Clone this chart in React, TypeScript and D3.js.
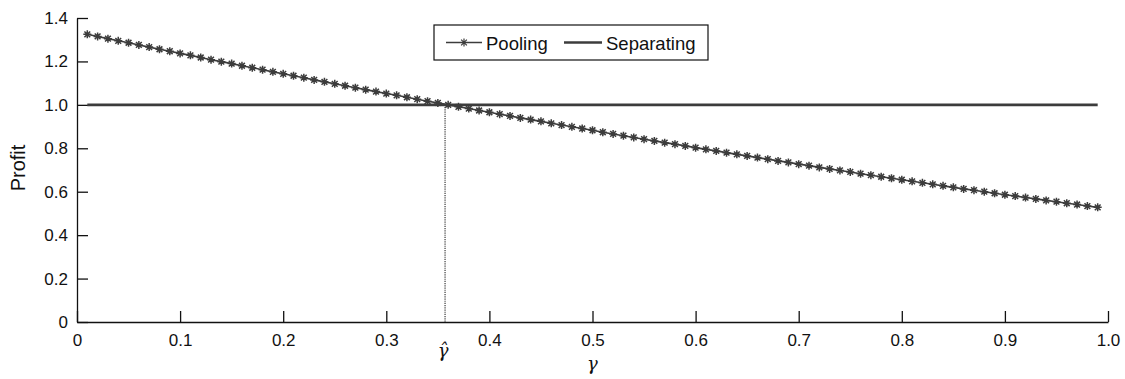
import { useEffect, useRef } from 'react';

import * as d3 from 'd3';


// ==========================================
// DATA
// ==========================================
const gamma = [
    0.01, 0.02, 0.03, 0.04, 0.05, 0.06, 0.07, 0.08, 0.09, 0.10,
    0.11, 0.12, 0.13, 0.14, 0.15, 0.16, 0.17, 0.18, 0.19, 0.20,
    0.21, 0.22, 0.23, 0.24, 0.25, 0.26, 0.27, 0.28, 0.29, 0.30,
    0.31, 0.32, 0.33, 0.34, 0.35, 0.36, 0.37, 0.38, 0.39, 0.40,
    0.41, 0.42, 0.43, 0.44, 0.45, 0.46, 0.47, 0.48, 0.49, 0.50,
    0.51, 0.52, 0.53, 0.54, 0.55, 0.56, 0.57, 0.58, 0.59, 0.60,
    0.61, 0.62, 0.63, 0.64, 0.65, 0.66, 0.67, 0.68, 0.69, 0.70,
    0.71, 0.72, 0.73, 0.74, 0.75, 0.76, 0.77, 0.78, 0.79, 0.80,
    0.81, 0.82, 0.83, 0.84, 0.85, 0.86, 0.87, 0.88, 0.89, 0.90,
    0.91, 0.92, 0.93, 0.94, 0.95, 0.96, 0.97, 0.98, 0.99,
];

const pooling = [
    1.325, 1.315, 1.305, 1.295, 1.286, 1.276, 1.266, 1.256, 1.247, 1.237,
    1.228, 1.218, 1.208, 1.199, 1.190, 1.180, 1.171, 1.162, 1.152, 1.143,
    1.134, 1.125, 1.115, 1.106, 1.097, 1.088, 1.079, 1.070, 1.061, 1.052,
    1.044, 1.035, 1.026, 1.017, 1.009, 1.000, 0.991, 0.983, 0.974, 0.966,
    0.957, 0.949, 0.940, 0.932, 0.924, 0.915, 0.907, 0.899, 0.891, 0.883,
    0.874, 0.866, 0.858, 0.850, 0.842, 0.834, 0.826, 0.819, 0.811, 0.803,
    0.795, 0.788, 0.780, 0.772, 0.765, 0.757, 0.750, 0.742, 0.735, 0.727,
    0.720, 0.712, 0.705, 0.698, 0.691, 0.683, 0.676, 0.669, 0.662, 0.655,
    0.648, 0.641, 0.634, 0.627, 0.620, 0.613, 0.607, 0.600, 0.593, 0.586,
    0.580, 0.573, 0.567, 0.560, 0.554, 0.547, 0.541, 0.534, 0.528,
];

// separating profit is flat across the whole range
const separatingGamma = [0.01, 0.99];
const separating = [1.0, 1.0];

const gammaHat = 0.357;

const xTicks = [0, 0.1, 0.2, 0.3, 0.4, 0.5, 0.6, 0.7, 0.8, 0.9, 1.0];
const xTickLabels = ['0', '0.1', '0.2', '0.3', '0.4', '0.5', '0.6', '0.7', '0.8', '0.9', '1.0'];
const yTicks = [0, 0.2, 0.4, 0.6, 0.8, 1.0, 1.2, 1.4];
const yTickLabels = ['0', '0.2', '0.4', '0.6', '0.8', '1.0', '1.2', '1.4'];


const ProfitChart = () => {

    const svgRef = useRef<SVGSVGElement>(null);


    useEffect(() => {

        d3.select(svgRef.current).selectAll('*').remove();


        // ==========================================
        // SVG SETUP
        // ==========================================
        const width = 1125;

        const height = 379;

        const font = '"Liberation Sans", Arial, Helvetica, sans-serif';

        const ink = '#3c3c3c';

        const svg = d3
            .select(svgRef.current)
            .attr('width', width)
            .attr('height', height)
            .attr('viewBox', `0 0 ${width} ${height}`)
            .style('font-family', font);


        // ==========================================
        // SCALES
        // ==========================================
        const xScale = d3.scaleLinear().domain([0, 1]).range([77, 1108]);

        const yScale = d3.scaleLinear().domain([0, 1.4]).range([322, 18]);


        // ==========================================
        // AXES (ticks point inward, no box)
        // ==========================================
        const xAxis = d3
            .axisBottom(xScale)
            .tickValues(xTicks)
            .tickSizeInner(-11)
            .tickSizeOuter(0)
            .tickPadding(8)
            .tickFormat((d, i) => xTickLabels[i]);

        const yAxis = d3
            .axisLeft(yScale)
            .tickValues(yTicks)
            .tickSizeInner(-11)
            .tickSizeOuter(0)
            .tickPadding(9)
            .tickFormat((d, i) => yTickLabels[i]);


        const gx = svg.append('g')
            .attr('transform', `translate(0, ${yScale(0)})`)
            .call(xAxis);

        const gy = svg.append('g')
            .attr('transform', `translate(${xScale(0)}, 0)`)
            .call(yAxis);


        [gx, gy].forEach((g) => {
            g.select('.domain').attr('stroke', '#111').attr('stroke-width', 1.3);
            g.selectAll('.tick line').attr('stroke', '#111').attr('stroke-width', 1.3);
            g.selectAll('text')
                .attr('fill', '#111')
                .style('font-size', '17px')
                .style('font-family', font);
        });

        gx.selectAll('.tick text').attr('y', 12);


        // ==========================================
        // AXIS TITLES
        // ==========================================
        svg.append('text')
            .attr('transform', `translate(25, 168) rotate(-90)`)
            .attr('text-anchor', 'middle')
            .attr('fill', '#111')
            .style('font-size', '20px')
            .text('Profit');

        svg.append('text')
            .attr('x', xScale(0.5))
            .attr('y', 370)
            .attr('text-anchor', 'middle')
            .attr('fill', '#111')
            .style('font-size', '18px')
            .style('font-family', '"DejaVu Serif", serif')
            .style('font-style', 'italic')
            .text('γ');

        svg.append('text')
            .attr('x', xScale(gammaHat) - 2)
            .attr('y', 357)
            .attr('text-anchor', 'middle')
            .attr('fill', '#111')
            .style('font-size', '18px')
            .style('font-family', '"DejaVu Serif", serif')
            .style('font-style', 'italic')
            .text('γ\u0302');


        // ==========================================
        // LINES
        // ==========================================
        // dotted drop line from the crossing down to the axis
        svg.append('line')
            .attr('x1', xScale(gammaHat))
            .attr('x2', xScale(gammaHat))
            .attr('y1', yScale(1.0))
            .attr('y2', yScale(0))
            .attr('stroke', '#555')
            .attr('stroke-width', 1.4)
            .attr('stroke-dasharray', '1.2,1');


        const line = d3.line<number>()
            .x((d, i) => xScale(separatingGamma[i]))
            .y((d) => yScale(d));

        svg.append('path')
            .datum(separating)
            .attr('d', line)
            .attr('fill', 'none')
            .attr('stroke', ink)
            .attr('stroke-width', 2.6);


        const poolLine = d3.line<number>()
            .x((d, i) => xScale(gamma[i]))
            .y((d) => yScale(d));

        svg.append('path')
            .datum(pooling)
            .attr('d', poolLine)
            .attr('fill', 'none')
            .attr('stroke', ink)
            .attr('stroke-width', 1.6);


        // 8-point asterisk marker
        const r = 4;
        const rd = r * 0.72;
        const star = `M${-r},0L${r},0M0,${-r}L0,${r}M${-rd},${-rd}L${rd},${rd}M${-rd},${rd}L${rd},${-rd}`;

        svg.append('g')
            .selectAll('path')
            .data(pooling)
            .enter()
            .append('path')
            .attr('transform', (d, i) => `translate(${xScale(gamma[i])}, ${yScale(d)})`)
            .attr('d', star)
            .attr('fill', 'none')
            .attr('stroke', ink)
            .attr('stroke-width', 1.5);


        // ==========================================
        // LEGEND
        // ==========================================
        const legend = svg.append('g').attr('transform', 'translate(434, 25)');

        legend.append('rect')
            .attr('width', 274)
            .attr('height', 35)
            .attr('fill', 'white')
            .attr('stroke', '#111')
            .attr('stroke-width', 1.2);

        legend.append('line')
            .attr('x1', 12).attr('x2', 48)
            .attr('y1', 17.5).attr('y2', 17.5)
            .attr('stroke', ink)
            .attr('stroke-width', 1.3);

        legend.append('path')
            .attr('transform', 'translate(30, 17.5)')
            .attr('d', star)
            .attr('fill', 'none')
            .attr('stroke', ink)
            .attr('stroke-width', 1.2);

        legend.append('text')
            .attr('x', 52)
            .attr('y', 24.5)
            .attr('fill', '#111')
            .style('font-size', '18.5px')
            .text('Pooling');

        legend.append('line')
            .attr('x1', 130).attr('x2', 168)
            .attr('y1', 17.5).attr('y2', 17.5)
            .attr('stroke', ink)
            .attr('stroke-width', 2.6);

        legend.append('text')
            .attr('x', 172)
            .attr('y', 24.5)
            .attr('fill', '#111')
            .style('font-size', '18.5px')
            .text('Separating');

    }, []);


    return (
        <svg
            ref={svgRef}
            style={{ position: 'absolute', left: 0, top: 0, display: 'block', background: 'white' }}
        ></svg>
    );
};


export default function App() {
    return <ProfitChart />;
}
